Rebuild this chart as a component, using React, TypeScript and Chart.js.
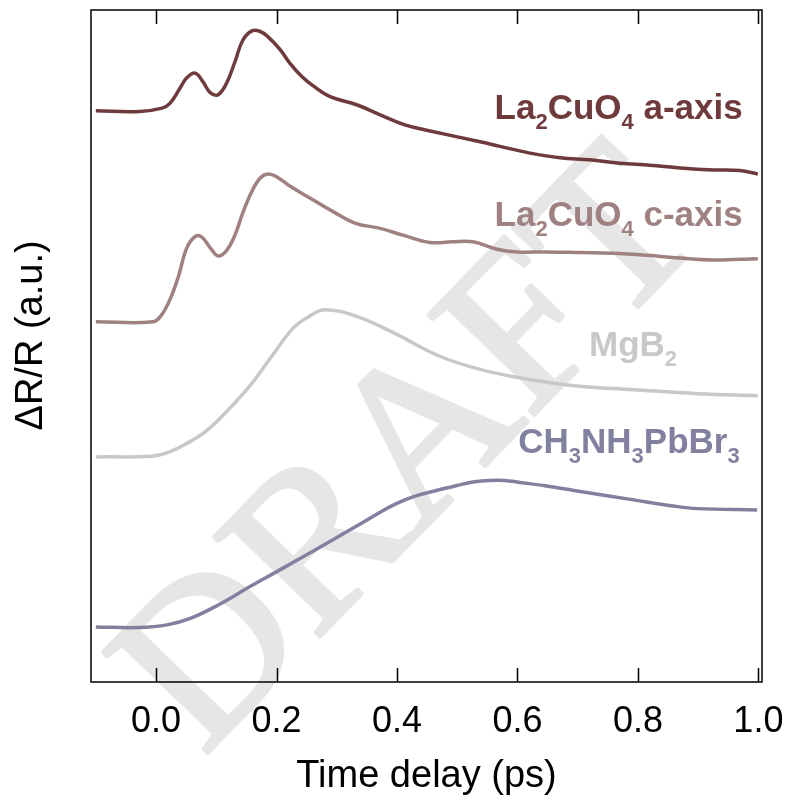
import React, { useEffect, useRef } from "react";
import { Chart, registerables } from "chart.js";

Chart.register(...registerables);

// ---- Data (time delay in ps, reflectivity change in arbitrary units) ----
const timeAAxis = [-0.1, -0.027, 0.01, 0.023, 0.04, 0.051, 0.065, 0.078, 0.09, 0.103, 0.117, 0.131, 0.144, 0.159, 0.173, 0.186, 0.206, 0.222, 0.242, 0.261, 0.289, 0.333, 0.372, 0.413, 0.455, 0.538, 0.571, 0.621, 0.671, 0.72, 0.77, 0.82, 0.87, 0.925, 0.969, 0.999];
const signalAAxis = [8.5, 8.49, 8.54, 8.61, 8.84, 8.99, 9.06, 8.93, 8.77, 8.74, 8.91, 9.23, 9.55, 9.69, 9.68, 9.6, 9.41, 9.21, 9.01, 8.87, 8.71, 8.59, 8.44, 8.29, 8.2, 8.04, 7.97, 7.87, 7.8, 7.77, 7.72, 7.69, 7.65, 7.62, 7.61, 7.56];

const timeCAxis = [-0.1, -0.005, 0.009, 0.023, 0.037, 0.051, 0.065, 0.076, 0.09, 0.103, 0.117, 0.131, 0.144, 0.159, 0.173, 0.186, 0.2, 0.222, 0.256, 0.294, 0.33, 0.372, 0.41, 0.455, 0.491, 0.526, 0.566, 0.599, 0.649, 0.704, 0.758, 0.815, 0.869, 0.924, 0.999];
const signalCAxis = [5.36, 5.36, 5.46, 5.69, 6.03, 6.46, 6.63, 6.62, 6.46, 6.34, 6.42, 6.65, 6.98, 7.3, 7.5, 7.56, 7.52, 7.38, 7.2, 7.0, 6.83, 6.75, 6.65, 6.54, 6.55, 6.55, 6.44, 6.4, 6.4, 6.39, 6.38, 6.35, 6.31, 6.28, 6.3];

const timeMgB2 = [-0.1, -0.008, 0.018, 0.051, 0.084, 0.123, 0.156, 0.189, 0.228, 0.254, 0.28, 0.333, 0.398, 0.465, 0.53, 0.596, 0.694, 0.793, 0.898, 0.999];
const signalMgB2 = [3.35, 3.36, 3.41, 3.55, 3.74, 4.08, 4.41, 4.81, 5.27, 5.44, 5.54, 5.44, 5.18, 4.87, 4.67, 4.54, 4.41, 4.35, 4.29, 4.26];

const timePerovskite = [-0.1, -0.028, 0.018, 0.058, 0.104, 0.156, 0.202, 0.267, 0.333, 0.365, 0.398, 0.43, 0.465, 0.498, 0.529, 0.554, 0.579, 0.604, 0.646, 0.694, 0.793, 0.858, 0.898, 0.998];
const signalPerovskite = [0.82, 0.81, 0.85, 0.95, 1.15, 1.42, 1.65, 1.98, 2.32, 2.49, 2.65, 2.765, 2.85, 2.92, 2.98, 3.0, 3.0, 2.97, 2.92, 2.85, 2.71, 2.62, 2.58, 2.56];

const seriesNames = ["La_2CuO_4 a-axis", "La_2CuO_4 c-axis", "MgB_2", "CH_3NH_3PbBr_3"];
const seriesColors = ["#6e3a3c", "#9f8182", "#c8c8c8", "#81819f"];

const xTickValues = [0, 0.2, 0.4, 0.6, 0.8, 1.0];

// label anchors (right edge x in ps, baseline y in a.u.)
const labelAnchorX = [0.974, 0.974, 0.865, 0.969];
const labelAnchorY = [8.38, 6.79, 4.85, 3.41];

const FONT = "'Liberation Sans', Arial, Helvetica, sans-serif";

function parseRich(text: string) {
  const parts: { t: string; sub: boolean }[] = [];
  let buf = "";
  for (let i = 0; i < text.length; i++) {
    if (text[i] === "_" && i + 1 < text.length) {
      if (buf) parts.push({ t: buf, sub: false });
      buf = "";
      parts.push({ t: text[i + 1], sub: true });
      i++;
    } else buf += text[i];
  }
  if (buf) parts.push({ t: buf, sub: false });
  return parts;
}

const watermarkPlugin = {
  id: "watermark",
  beforeDraw(chart: any) {
    const ctx = chart.ctx;
    ctx.save();
    ctx.translate(456, 496);
    ctx.rotate((-46 * Math.PI) / 180);
    ctx.font = "222px 'Liberation Serif', 'Times New Roman', serif";
    ctx.fillStyle = "#e6e6e6";
    ctx.strokeStyle = "#e6e6e6";
    ctx.lineWidth = 4;
    ctx.lineJoin = "round";
    ctx.textAlign = "center";
    ctx.textBaseline = "alphabetic";
    ctx.fillText("DRAFT", 0, 0);
    ctx.strokeText("DRAFT", 0, 0);
    ctx.restore();
  },
};

const framePlugin = {
  id: "frame",
  afterDatasetsDraw(chart: any) {
    const { ctx, chartArea } = chart;
    const xs = chart.scales.x;
    ctx.save();
    ctx.strokeStyle = "#000";
    ctx.lineWidth = 1.5;
    ctx.strokeRect(chartArea.left, chartArea.top, chartArea.right - chartArea.left, chartArea.bottom - chartArea.top);
    const len = 14;
    ctx.beginPath();
    for (const v of xTickValues) {
      const px = Math.round(xs.getPixelForValue(v)) + 0.5;
      ctx.moveTo(px, chartArea.bottom);
      ctx.lineTo(px, chartArea.bottom - len);
      ctx.moveTo(px, chartArea.top);
      ctx.lineTo(px, chartArea.top + len);
    }
    ctx.stroke();
    ctx.restore();
  },
};

const labelPlugin = {
  id: "seriesLabels",
  afterDatasetsDraw(chart: any) {
    const { ctx } = chart;
    const xs = chart.scales.x;
    const ys = chart.scales.y;
    const mainSize = 35;
    const subSize = 22;
    seriesNames.forEach((name, i) => {
      const parts = parseRich(name);
      ctx.save();
      ctx.textBaseline = "alphabetic";
      ctx.textAlign = "left";
      let total = 0;
      for (const p of parts) {
        ctx.font = `bold ${p.sub ? subSize : mainSize}px ${FONT}`;
        total += ctx.measureText(p.t).width;
      }
      let x = xs.getPixelForValue(labelAnchorX[i]) - total;
      const y = ys.getPixelForValue(labelAnchorY[i]);
      ctx.fillStyle = seriesColors[i];
      for (const p of parts) {
        ctx.font = `bold ${p.sub ? subSize : mainSize}px ${FONT}`;
        ctx.fillText(p.t, x, p.sub ? y + 10 : y);
        x += ctx.measureText(p.t).width;
      }
      ctx.restore();
    });
  },
};

export default function App() {
  const canvasRef = useRef<HTMLCanvasElement | null>(null);

  useEffect(() => {
    if (!canvasRef.current) return;
    const series = [
      [timeAAxis, signalAAxis],
      [timeCAxis, signalCAxis],
      [timeMgB2, signalMgB2],
      [timePerovskite, signalPerovskite],
    ];
    const chart = new Chart(canvasRef.current, {
      type: "line",
      data: {
        datasets: series.map(([t, v], i) => ({
          label: seriesNames[i],
          data: t.map((tt, j) => ({ x: tt, y: v[j] })),
          borderColor: seriesColors[i],
          borderWidth: 3.5,
          pointRadius: 0,
          fill: false,
          tension: 0.4,
        })),
      },
      options: {
        animation: false,
        responsive: true,
        maintainAspectRatio: false,
        layout: { padding: { left: 0, top: 10, right: 26, bottom: 0 } },
        plugins: { legend: { display: false }, tooltip: { enabled: false } },
        scales: {
          x: {
            type: "linear",
            min: -0.108,
            max: 1.006,
            afterBuildTicks: (scale: any) => {
              scale.ticks = xTickValues.map((v) => ({ value: v }));
            },
            afterFit: (scale: any) => {
              scale.height = 119;
              scale.paddingLeft = 0;
              scale.paddingRight = 0;
            },
            grid: { display: false, drawTicks: false },
            border: { display: false },
            ticks: {
              color: "#000",
              padding: 18,
              maxRotation: 0,
              autoSkip: false,
              font: { family: FONT, size: 36 },
              callback: (v: any) => Number(v).toFixed(1),
            },
            title: {
              display: true,
              text: "Time delay (ps)",
              color: "#000",
              font: { family: FONT, size: 38 },
              padding: { top: 0, bottom: 2 },
            },
          },
          y: {
            type: "linear",
            min: 0,
            max: 10,
            afterFit: (scale: any) => {
              scale.width = 91;
            },
            grid: { display: false, drawTicks: false },
            border: { display: false },
            ticks: { display: false },
            title: {
              display: true,
              text: "  ΔR/R (a.u.)",
              color: "#000",
              font: { family: FONT, size: 38 },
              padding: { top: 9, bottom: 0 },
            },
          },
        },
      },
      plugins: [watermarkPlugin, framePlugin, labelPlugin],
    });
    return () => chart.destroy();
  }, []);

  return (
    <div style={{ position: "absolute", left: 0, top: 0, width: 788, height: 801, background: "#fff" }}>
      <canvas ref={canvasRef} />
    </div>
  );
}
